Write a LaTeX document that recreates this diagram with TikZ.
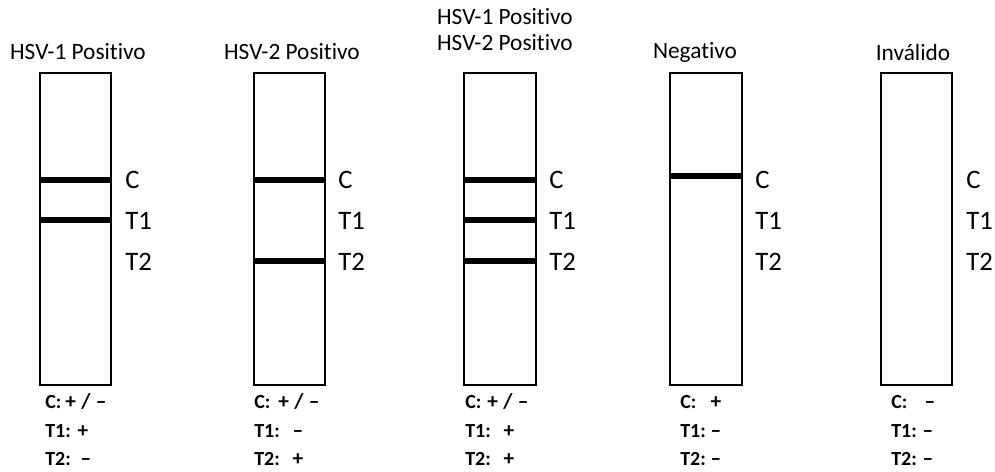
\documentclass[tikz,border=0pt]{standalone}
\usepackage{fontspec}
\setmainfont[Ligatures={NoCommon}]{Carlito}
\begin{document}
\begin{tikzpicture}[x=0.75pt,y=-0.75pt,
  strip/.style={draw=black,line width=1.6pt,fill=white,inner sep=0pt,minimum width=53.5pt,minimum height=234pt},
  band/.style={line width=4.2pt,line cap=butt},
  title/.style={font=\fontsize{17.5}{20}\selectfont,inner sep=0pt,anchor=center},
  lab/.style={font=\fontsize{20}{24}\selectfont,inner sep=0pt,anchor=west},
  res/.style={font=\bfseries\fontsize{15}{17}\selectfont,inner sep=0pt,anchor=base west},
  val/.style={font=\bfseries\fontsize{16}{17}\selectfont,inner sep=0pt,anchor=base}]
\useasboundingbox (0,0) rectangle (995,471);
% strips
\node[strip] (s1) at (75.5,229) {};
\node[strip] (s2) at (289.5,229) {};
\node[strip] (s3) at (500,229) {};
\node[strip] (s4) at (706,229) {};
\node[strip] (s5) at (916.5,229) {};
% bands
\coordinate (yc) at (0,180);
\coordinate (yt1) at (0,220);
\coordinate (yt2) at (0,261);
\coordinate (yc4) at (0,176);
\draw[band] (s1.west |- yc) -- (s1.east |- yc);
\draw[band] (s1.west |- yt1) -- (s1.east |- yt1);
\draw[band] (s2.west |- yc) -- (s2.east |- yc);
\draw[band] (s2.west |- yt2) -- (s2.east |- yt2);
\draw[band] (s3.west |- yc) -- (s3.east |- yc);
\draw[band] (s3.west |- yt1) -- (s3.east |- yt1);
\draw[band] (s3.west |- yt2) -- (s3.east |- yt2);
\draw[band] (s4.west |- yc4) -- (s4.east |- yc4);
% titles
\node[title] (t1) at (78,52) {HSV-1 Positivo};
\node[title] (t2) at (292,52) {HSV-2 Positivo};
\node[title] (t3a) at (505,17) {HSV-1 Positivo};
\node[title] (t3b) at (505,43) {HSV-2 Positivo};
\node[title] (t4) at (695,52) {Negativo};
\node[title] (t5) at (913,52) {Inválido};
% C / T1 / T2 labels
\foreach \s/\x in {1/125,2/338,3/549,4/755,5/966}{
  \node[lab] (c\s) at (\x,180) {C};
  \node[lab] (a\s) at (\x,221) {T1};
  \node[lab] (b\s) at (\x,262) {T2};
}
% results: keys
\foreach \s/\x in {1/45,2/254,3/465,4/680,5/891}{
  \node[res] (kc\s) at (\x,408) {C:};
  \node[res] (ka\s) at (\x,437) {T1:};
  \node[res] (kb\s) at (\x,465) {T2:};
}
% results: values
\node[val] (v1c) at (86,408) {+\hspace{4pt}/\hspace{4pt}–};
\node[val] (v1a) at (83,437) {+};
\node[val] (v1b) at (86,465) {–};
\node[val] (v2c) at (299,408) {+\hspace{4pt}/\hspace{4pt}–};
\node[val] (v2a) at (298,437) {–};
\node[val] (v2b) at (298,465) {+};
\node[val] (v3c) at (508,408) {+\hspace{4pt}/\hspace{4pt}–};
\node[val] (v3a) at (509,437) {+};
\node[val] (v3b) at (509,465) {+};
\node[val] (v4c) at (716,408) {+};
\node[val] (v4a) at (716,437) {–};
\node[val] (v4b) at (716,465) {–};
\node[val] (v5c) at (930,408) {–};
\node[val] (v5a) at (928,437) {–};
\node[val] (v5b) at (928,465) {–};
\end{tikzpicture}
\end{document}
